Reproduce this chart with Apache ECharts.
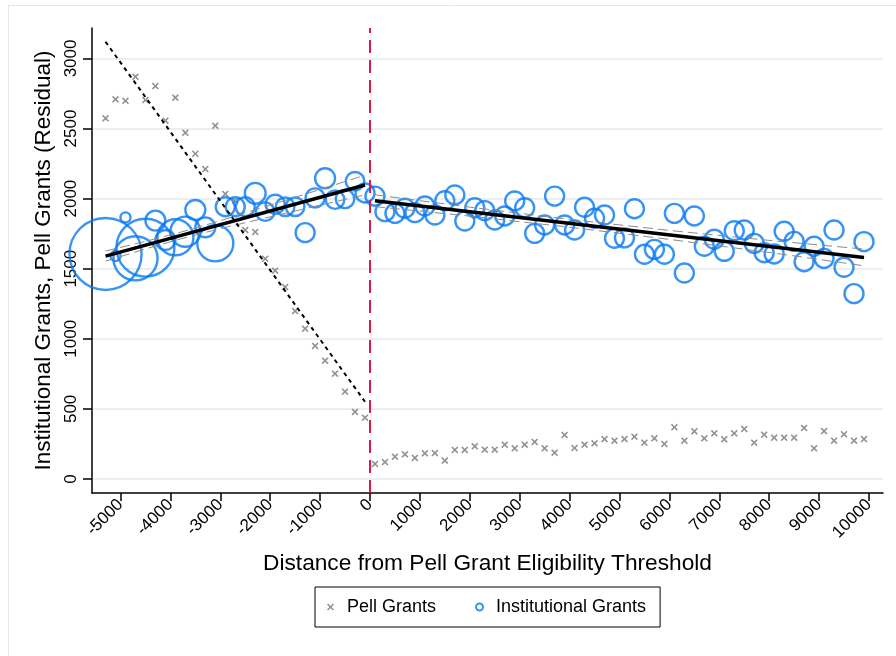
<!DOCTYPE html>
<html>
<head>
<meta charset="utf-8">
<script src="https://cdn.jsdelivr.net/npm/echarts@6/dist/echarts.min.js"></script>
<style>
  html, body { margin: 0; padding: 0; background: #fff; }
  #chart { width: 896px; height: 656px; }
</style>
</head>
<body>
<div id="chart"></div>
<script>
// Bin centres (distance from the eligibility threshold)
const binsBelow = [-5300, -5100, -4900, -4700, -4500, -4300, -4100, -3900, -3700, -3500,
  -3300, -3100, -2900, -2700, -2500, -2300, -2100, -1900, -1700, -1500,
  -1300, -1100, -900, -700, -500, -300, -100];
const binsAbove = [100, 300, 500, 700, 900, 1100, 1300, 1500, 1700, 1900,
  2100, 2300, 2500, 2700, 2900, 3100, 3300, 3500, 3700, 3900,
  4100, 4300, 4500, 4700, 4900, 5100, 5300, 5500, 5700, 5900,
  6100, 6300, 6500, 6700, 6900, 7100, 7300, 7500, 7700, 7900,
  8100, 8300, 8500, 8700, 8900, 9100, 9300, 9500, 9700, 9900];

// Pell grant residuals per bin
const pellBelow = [2573, 2708, 2698, 2870, 2703, 2803, 2556, 2720, 2470, 2320,
  2211, 2520, 2033, 1985, 1776, 1762, 1571, 1486, 1369, 1198,
  1072, 949, 844, 751, 623, 478, 437];
const pellAbove = [107, 121, 159, 176, 150, 183, 185, 131, 207, 207,
  233, 209, 209, 245, 219, 245, 264, 219, 188, 314,
  221, 245, 254, 285, 273, 285, 302, 259, 290, 250,
  369, 273, 340, 290, 326, 283, 326, 357, 259, 316,
  295, 295, 295, 364, 219, 342, 273, 319, 273, 285];

// Institutional grant residuals per bin and bin weights (marker area)
const instBelow = [1605, 1590, 1866, 1574, 1650, 1843, 1705, 1724, 1764, 1919,
  1795, 1681, 1942, 1942, 1942, 2038, 1907, 1960, 1942, 1942,
  1757, 2005, 2145, 1993, 1998, 2124, 2040];
const weightBelow = [1440, 28, 28, 540, 930, 110, 110, 360, 250, 110,
  110, 360, 100, 100, 100, 120, 95, 100, 95, 95,
  100, 100, 110, 95, 95, 95, 100];
const instAbove = [2018, 1907, 1895, 1931, 1900, 1947, 1883, 1985, 2026, 1840,
  1935, 1914, 1847, 1876, 1983, 1935, 1752, 1812, 2018, 1812,
  1776, 1938, 1860, 1883, 1717, 1720, 1928, 1603, 1638, 1603,
  1895, 1469, 1876, 1660, 1710, 1624, 1771, 1776, 1681, 1614,
  1605, 1767, 1695, 1550, 1660, 1574, 1776, 1510, 1322, 1693];
const weightAbove = new Array(instAbove.length).fill(100);

// Linear fits on each side of the threshold
const pellFitBelow = [[-5300, 3119], [-100, 551]];
const instFitBelow = [[-5300, 1590], [-100, 2097]];
const instFitAbove = [[100, 1985], [9900, 1580]];

// 95% confidence bands of the institutional-grant fits
const ciBelowX = [-5300, -4500, -3800, -3000, -2000, -1000, -100];
const ciBelowHi = [1626, 1695, 1760, 1842, 1954, 2065, 2167];
const ciBelowLo = [1554, 1641, 1712, 1786, 1870, 1953, 2027];
const ciAboveX = [100, 2000, 4000, 6000, 8000, 9900];
const ciAboveHi = [2027, 1939, 1852, 1773, 1702, 1640];
const ciAboveLo = [1943, 1875, 1796, 1709, 1616, 1521];

// Axis ticks
const xTicks = [-5000, -4000, -3000, -2000, -1000, 0, 1000, 2000, 3000, 4000,
  5000, 6000, 7000, 8000, 9000, 10000];
const yTicks = [0, 500, 1000, 1500, 2000, 2500, 3000];
const threshold = 0;

const FONT = '"Liberation Sans", Arial, Helvetica, sans-serif';
const BLUE = '#0579f2';
const GREY = '#767676';
const CROSS = 'path://M1.6,0 L5,3.4 L8.4,0 L10,1.6 L6.6,5 L10,8.4 L8.4,10 L5,6.6 L1.6,10 L0,8.4 L3.4,5 L0,1.6 Z';

const zip = (xs, ys) => xs.map((x, i) => [x, ys[i]]);
const zip3 = (xs, ys, ws) => xs.map((x, i) => [x, ys[i], ws[i]]);
const plain = v => String(v);

const pellData = zip(binsBelow, pellBelow).concat(zip(binsAbove, pellAbove));
const instData = zip3(binsBelow, instBelow, weightBelow).concat(zip3(binsAbove, instAbove, weightAbove));

function band(name, data) {
  return {
    name: name, type: 'line', data: data, symbol: 'none', silent: true, z: 4,
    lineStyle: { color: '#8a8a8a', width: 1, type: [10, 5] }
  };
}

const chart = echarts.init(document.getElementById('chart'), null, { renderer: 'canvas' });
chart.setOption({
  animation: false,
  backgroundColor: '#fff',
  textStyle: { fontFamily: FONT },
  graphic: [{
    type: 'rect', silent: true, z: -10,
    shape: { x: 8.5, y: 5.5, width: 1000, height: 1000 },
    style: { fill: 'none', stroke: '#e2e8ec', lineWidth: 1 }
  }],
  grid: { left: 92, right: 13, top: 28, bottom: 163 },
  xAxis: {
    type: 'value', min: -5571, max: 10281,
    name: 'Distance from Pell Grant Eligibility Threshold',
    nameLocation: 'middle', nameGap: 59,
    nameTextStyle: { fontSize: 22.7, color: '#000', fontFamily: FONT },
    axisLine: { show: true, onZero: false, lineStyle: { color: '#000', width: 1.5 } },
    axisTick: { show: true, length: 8, customValues: xTicks, lineStyle: { color: '#000', width: 1.5 } },
    axisLabel: { customValues: xTicks, formatter: plain, rotate: 45, fontSize: 17, color: '#000', margin: 9, fontFamily: FONT },
    splitLine: { show: false }
  },
  yAxis: {
    type: 'value', min: -100, max: 3217,
    name: 'Institutional Grants, Pell Grants (Residual)',
    nameLocation: 'middle', nameGap: 37,
    nameTextStyle: { fontSize: 22.5, color: '#000', fontFamily: FONT },
    axisLine: { show: true, onZero: false, lineStyle: { color: '#000', width: 1.5 } },
    axisTick: { show: true, length: 9, customValues: yTicks, lineStyle: { color: '#000', width: 1.5 } },
    axisLabel: { customValues: yTicks, formatter: plain, rotate: 90, fontSize: 17, color: '#000', margin: 12, fontFamily: FONT },
    splitLine: { show: false }
  },
  legend: {
    left: 315, top: 587,
    padding: [11, 14, 11, 12], itemGap: 39,
    borderColor: '#000', borderWidth: 1, borderRadius: 0,
    itemWidth: 7, itemHeight: 7,
    textStyle: { fontSize: 18, color: '#000', fontFamily: FONT, padding: [0, 0, 0, 8] },
    data: [
      { name: 'Pell Grants', icon: CROSS, itemStyle: { color: GREY } },
      { name: 'Institutional Grants', icon: 'circle',
        itemStyle: { color: 'rgba(0,0,0,0)', borderColor: BLUE, borderWidth: 2 } }
    ]
  },
  series: [
    {
      name: 'grid', type: 'line', data: [], silent: true, z: 0,
      markLine: {
        silent: true, symbol: 'none', z: 0,
        label: { show: false },
        lineStyle: { color: '#e9f0f3', width: 2, type: 'solid' },
        data: yTicks.map(v => ({ yAxis: v }))
      }
    },
    {
      name: 'Pell Grants', type: 'scatter', data: pellData, z: 2,
      symbol: CROSS, symbolSize: 7,
      itemStyle: { color: GREY }
    },
    {
      name: 'Institutional Grants', type: 'scatter', data: instData, z: 3,
      symbol: 'circle',
      symbolSize: v => 19 * Math.sqrt(v[2] / 100),
      itemStyle: { color: 'rgba(0,0,0,0)', borderColor: BLUE, borderWidth: 2.4 }
    },
    band('ci-below-hi', zip(ciBelowX, ciBelowHi)),
    band('ci-below-lo', zip(ciBelowX, ciBelowLo)),
    band('ci-above-hi', zip(ciAboveX, ciAboveHi)),
    band('ci-above-lo', zip(ciAboveX, ciAboveLo)),
    {
      name: 'pell-fit', type: 'line', data: pellFitBelow, symbol: 'none', silent: true, z: 5,
      lineStyle: { color: '#000', width: 2, type: [4, 4] }
    },
    {
      name: 'inst-fit-below', type: 'line', data: instFitBelow, symbol: 'none', silent: true, z: 5,
      lineStyle: { color: '#000', width: 3.5 }
    },
    {
      name: 'inst-fit-above', type: 'line', data: instFitAbove, symbol: 'none', silent: true, z: 5,
      lineStyle: { color: '#000', width: 3.5 },
      markLine: {
        silent: true, symbol: 'none',
        label: { show: false },
        lineStyle: { color: '#d81b48', width: 2, type: [13, 7] },
        data: [{ xAxis: threshold }]
      }
    }
  ]
});
</script>
</body>
</html>
